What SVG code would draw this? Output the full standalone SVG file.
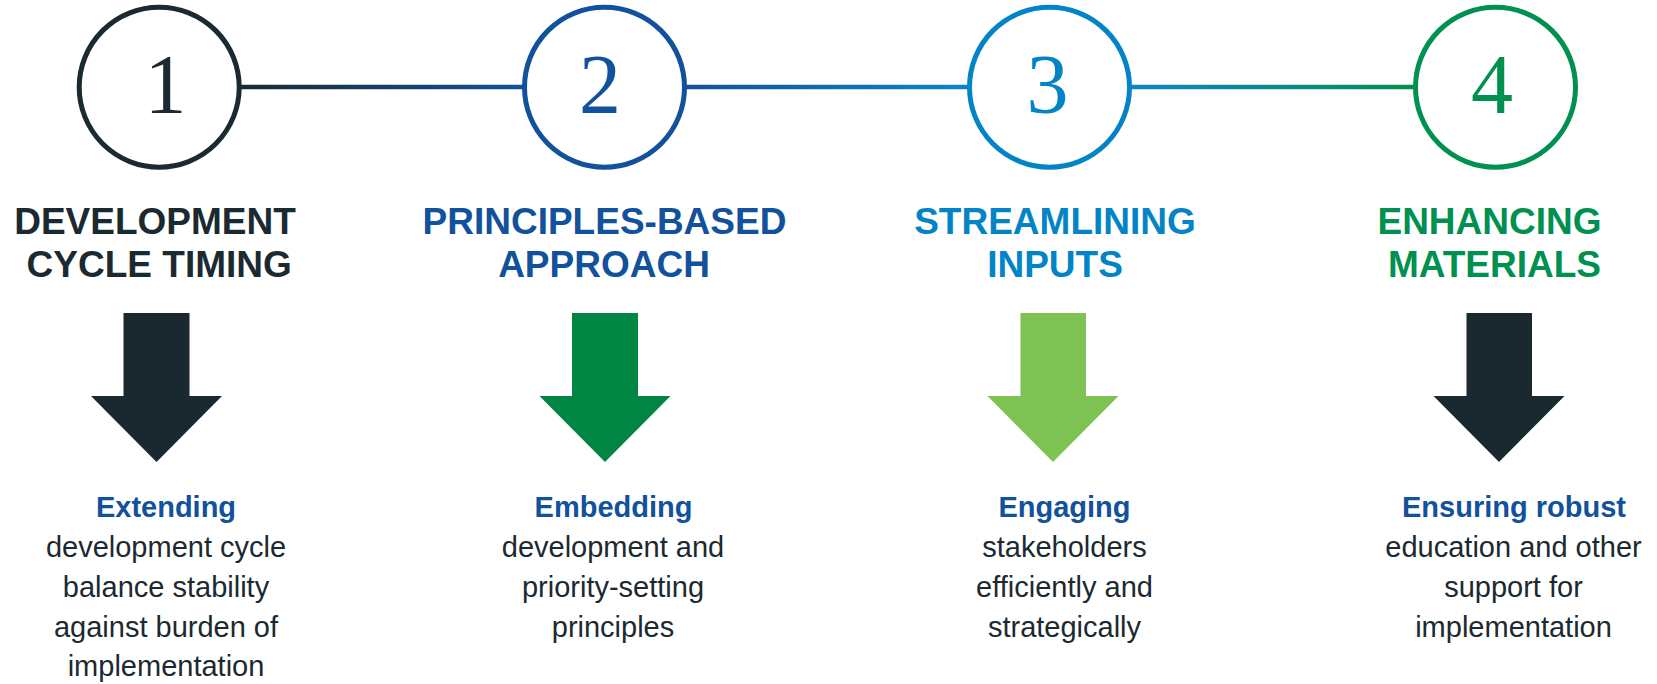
<svg xmlns="http://www.w3.org/2000/svg" width="1657" height="684" viewBox="0 0 1657 684">
<defs>
<linearGradient id="g12" x1="241" y1="0" x2="523" y2="0" gradientUnits="userSpaceOnUse"><stop offset="0" stop-color="#1a2a33"/><stop offset="1" stop-color="#12519c"/></linearGradient>
<linearGradient id="g23" x1="686" y1="0" x2="968" y2="0" gradientUnits="userSpaceOnUse"><stop offset="0" stop-color="#12519c"/><stop offset="1" stop-color="#0a86c8"/></linearGradient>
<linearGradient id="g34" x1="1131" y1="0" x2="1414" y2="0" gradientUnits="userSpaceOnUse"><stop offset="0" stop-color="#0a86c8"/><stop offset="1" stop-color="#00914f"/></linearGradient>
</defs>
<style>
.ring{fill:#fff;stroke-width:5}
.num{font-family:"Liberation Serif","Times New Roman",serif;font-size:84px;text-anchor:middle}
.head{font-family:"Liberation Sans",Arial,sans-serif;font-weight:bold;font-size:37px;text-anchor:middle}
.sub{font-family:"Liberation Sans",Arial,sans-serif;font-weight:bold;font-size:29px;text-anchor:middle;fill:#12519c}
.body{font-family:"Liberation Sans",Arial,sans-serif;font-size:29px;text-anchor:middle;fill:#1b2931}
.c1{fill:#1b2931}.s1{stroke:#1b2931}
.c2{fill:#12519c}.s2{stroke:#12519c}
.c3{fill:#0384c6}.s3{stroke:#0384c6}
.c4{fill:#00904f}.s4{stroke:#00904f}
.dark{fill:#1a2830}.green{fill:#008542}.lime{fill:#7dc252}
</style>
<rect width="1657" height="684" fill="#fff"/>
<g id="connectors">
<line x1="238" y1="87" x2="526" y2="87" stroke="url(#g12)" stroke-width="4.5"/>
<line x1="683" y1="87" x2="971" y2="87" stroke="url(#g23)" stroke-width="4.5"/>
<line x1="1128" y1="87" x2="1417" y2="87" stroke="url(#g34)" stroke-width="4.5"/>
</g>
<g id="step1">
<circle class="ring s1" cx="159.2" cy="87.2" r="80"/>
<text class="num c1" x="165.5" y="113">1</text>
<text class="head c1" x="155" y="233.5">DEVELOPMENT</text>
<text class="head c1" x="159.2" y="277">CYCLE TIMING</text>
<polygon class="dark" points="123.5,313 189.5,313 189.5,396 222,396 156.5,462 91,396 123.5,396"/>
<text class="sub" x="166" y="517">Extending</text>
<text class="body" x="166" y="557">development cycle</text>
<text class="body" x="166" y="597">balance stability</text>
<text class="body" x="166" y="637">against burden of</text>
<text class="body" x="166" y="676">implementation</text>
</g>
<g id="step2">
<circle class="ring s2" cx="604.5" cy="87.2" r="80"/>
<text class="num c2" x="600" y="113">2</text>
<text class="head c2" x="604.5" y="233.5">PRINCIPLES-BASED</text>
<text class="head c2" x="604" y="277">APPROACH</text>
<polygon class="green" points="572,313 638,313 638,396 670.5,396 605,462 539.5,396 572,396"/>
<text class="sub" x="613.5" y="517">Embedding</text>
<text class="body" x="613" y="557">development and</text>
<text class="body" x="613" y="597">priority-setting</text>
<text class="body" x="613" y="637">principles</text>
</g>
<g id="step3">
<circle class="ring s3" cx="1049.5" cy="87.2" r="80"/>
<text class="num c3" x="1047.5" y="113">3</text>
<text class="head c3" x="1055" y="233.5">STREAMLINING</text>
<text class="head c3" x="1055" y="277">INPUTS</text>
<polygon class="lime" points="1020.5,313 1086,313 1086,396 1118.5,396 1053,462 987.5,396 1020.5,396"/>
<text class="sub" x="1064.5" y="517">Engaging</text>
<text class="body" x="1064.5" y="557">stakeholders</text>
<text class="body" x="1064.5" y="597">efficiently and</text>
<text class="body" x="1064.5" y="637">strategically</text>
</g>
<g id="step4">
<circle class="ring s4" cx="1495.5" cy="87.2" r="80"/>
<text class="num c4" x="1492" y="113">4</text>
<text class="head c4" x="1489.5" y="233.5">ENHANCING</text>
<text class="head c4" x="1494.5" y="277">MATERIALS</text>
<polygon class="dark" points="1466.5,313 1532,313 1532,396 1564.5,396 1499,462 1433.5,396 1466.5,396"/>
<text class="sub" x="1514" y="517">Ensuring robust</text>
<text class="body" x="1513.5" y="557">education and other</text>
<text class="body" x="1513.5" y="597">support for</text>
<text class="body" x="1513.5" y="637">implementation</text>
</g>
</svg>
